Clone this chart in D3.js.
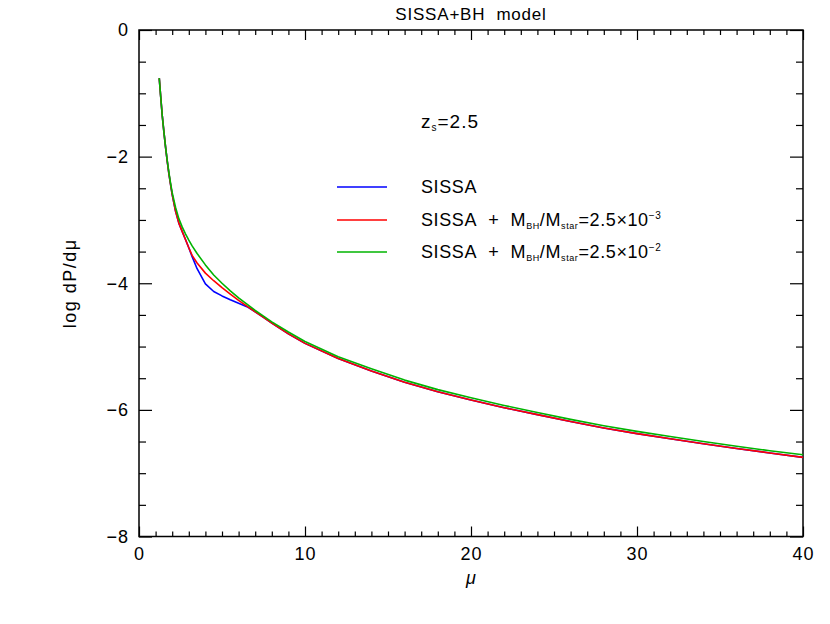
<!DOCTYPE html>
<html>
<head>
<meta charset="utf-8">
<script src="https://cdn.jsdelivr.net/npm/d3@7"></script>
<style>
  html, body { margin: 0; padding: 0; background: #fff; }
  svg { display: block; }
  text { font-family: "Liberation Sans", Arial, sans-serif; fill: #000; }
</style>
</head>
<body>
<svg id="chart" width="830" height="624"></svg>
<script>
// ---- data ----
const muValues = [1.22,1.3,1.4,1.5,1.6,1.7,1.8,1.9,2.0,2.2,2.4,2.6,2.8,3.0,3.2,3.5,4.0,4.5,5.0,5.5,6.0,6.5,7.0,7.5,8,9,10,12,14,16,18,20,22,24,26,28,30,32,34,36,38,40];
const sissa = [-0.76,-1.03,-1.35,-1.61,-1.85,-2.07,-2.27,-2.44,-2.60,-2.86,-3.05,-3.18,-3.31,-3.44,-3.58,-3.77,-4.01,-4.13,-4.20,-4.26,-4.315,-4.37,-4.45,-4.54,-4.63,-4.80,-4.95,-5.19,-5.385,-5.565,-5.715,-5.845,-5.965,-6.075,-6.185,-6.285,-6.375,-6.455,-6.535,-6.61,-6.68,-6.75];
const sissaBH3 = [-0.76,-1.03,-1.35,-1.61,-1.85,-2.07,-2.27,-2.44,-2.60,-2.86,-3.05,-3.18,-3.31,-3.44,-3.56,-3.68,-3.84,-3.96,-4.07,-4.17,-4.27,-4.36,-4.45,-4.54,-4.63,-4.80,-4.95,-5.19,-5.385,-5.565,-5.715,-5.845,-5.965,-6.075,-6.185,-6.285,-6.375,-6.455,-6.535,-6.61,-6.68,-6.75];
const sissaBH2 = [-0.76,-1.03,-1.35,-1.61,-1.85,-2.06,-2.25,-2.42,-2.57,-2.80,-2.98,-3.11,-3.22,-3.32,-3.41,-3.53,-3.71,-3.87,-4.00,-4.12,-4.23,-4.33,-4.43,-4.52,-4.61,-4.77,-4.92,-5.16,-5.35,-5.53,-5.68,-5.81,-5.93,-6.04,-6.15,-6.25,-6.34,-6.42,-6.50,-6.575,-6.645,-6.71];
const xMajorTicks = [0,10,20,30,40];
const yMajorTicks = [-8,-6,-4,-2,0];
const seriesColors = ["#0000ff", "#ff0000", "#00b400"];

// ---- layout ----
const svg = d3.select("#chart");
const X0 = 139, X1 = 803, Y0 = 30, Y1 = 536.5;
const x = d3.scaleLinear().domain([0, 40]).range([X0, X1]);
const y = d3.scaleLinear().domain([-8, 0]).range([Y1, Y0]);

const xMinor = d3.range(0, 41, 1).filter(v => v % 10 !== 0);
const yMinor = d3.range(-8, 0.001, 0.5).filter(v => Math.abs(v % 2) > 1e-6);
const NB = "\u00a0";

function styleAxis(g) {
  g.select(".domain").remove();
  g.selectAll(".tick line").attr("stroke", "#000").attr("stroke-width", 1.2);
  g.selectAll(".tick text").style("font-size", "18px").style("letter-spacing", "1px")
    .style("font-family", '"Liberation Sans", Arial, sans-serif');
}
const minus = d => d < 0 ? "\u2212" + Math.abs(d) : String(d);

// bottom axis
svg.append("g").attr("transform", `translate(0,${Y1})`)
  .call(d3.axisBottom(x).tickValues(xMajorTicks).tickSizeInner(-10).tickSizeOuter(0).tickPadding(11).tickFormat(minus))
  .call(styleAxis);
svg.append("g").attr("transform", `translate(0,${Y1})`)
  .call(d3.axisBottom(x).tickValues(xMinor).tickSize(-5).tickFormat(""))
  .call(styleAxis);
// top axis
svg.append("g").attr("transform", `translate(0,${Y0})`)
  .call(d3.axisTop(x).tickValues(xMajorTicks).tickSize(-10).tickFormat(""))
  .call(styleAxis);
svg.append("g").attr("transform", `translate(0,${Y0})`)
  .call(d3.axisTop(x).tickValues(xMinor).tickSize(-5).tickFormat(""))
  .call(styleAxis);
// left axis
svg.append("g").attr("transform", `translate(${X0},0)`)
  .call(d3.axisLeft(y).tickValues(yMajorTicks).tickSizeInner(-13).tickSizeOuter(0).tickPadding(10).tickFormat(minus))
  .call(styleAxis);
svg.append("g").attr("transform", `translate(${X0},0)`)
  .call(d3.axisLeft(y).tickValues(yMinor).tickSize(-7).tickFormat(""))
  .call(styleAxis);
// right axis
svg.append("g").attr("transform", `translate(${X1},0)`)
  .call(d3.axisRight(y).tickValues(yMajorTicks).tickSize(-13).tickFormat(""))
  .call(styleAxis);
svg.append("g").attr("transform", `translate(${X1},0)`)
  .call(d3.axisRight(y).tickValues(yMinor).tickSize(-7).tickFormat(""))
  .call(styleAxis);

// frame
svg.append("rect").attr("x", X0).attr("y", Y0).attr("width", X1 - X0).attr("height", Y1 - Y0)
  .attr("fill", "none").attr("stroke", "#000").attr("stroke-width", 1.5);

// curves
const line = d3.line().x(d => x(d[0])).y(d => y(d[1])).curve(d3.curveLinear);
[sissa, sissaBH3, sissaBH2].forEach((vals, i) => {
  svg.append("path")
    .datum(muValues.map((m, j) => [m, vals[j]]))
    .attr("d", line)
    .attr("fill", "none")
    .attr("stroke", seriesColors[i])
    .attr("stroke-width", 1.6)
    .attr("stroke-linejoin", "round");
});

// title
svg.append("text").attr("x", (X0 + X1) / 2).attr("y", 20).attr("text-anchor", "middle")
  .style("font-size", "17px").style("letter-spacing", "0.8px").text("SISSA+BH" + NB + NB + "model");

// axis labels
svg.append("text").attr("x", x(20)).attr("y", 584).attr("text-anchor", "middle")
  .style("font-size", "18px").style("font-style", "italic").text("\u03bc");
svg.append("text").attr("transform", `translate(76,${(Y0 + Y1) / 2}) rotate(-90)`)
  .attr("text-anchor", "middle").style("font-size", "18px").style("letter-spacing", "1.5px")
  .text("log" + NB + "dP/d\u03bc");

// annotation z_s = 2.5
const zt = svg.append("text").attr("x", 421).attr("y", 128).style("font-size", "19px").style("letter-spacing", "1px");
zt.append("tspan").text("z");
zt.append("tspan").attr("dy", 3).style("font-size", "10px").text("s");
zt.append("tspan").attr("dy", -3).text("=2.5");

// legend
const legY = [187, 220, 252];
legY.forEach((ly, i) => {
  svg.append("line").attr("x1", 337).attr("x2", 387).attr("y1", ly).attr("y2", ly)
    .attr("stroke", seriesColors[i]).attr("stroke-width", 1.6);
  const t = svg.append("text").attr("x", 421).attr("y", ly + 6).style("font-size", "18px").style("letter-spacing", "0.6px");
  if (i === 0) {
    t.text("SISSA");
  } else {
    t.append("tspan").text("SISSA" + NB + NB + "+" + NB + NB + "M");
    t.append("tspan").attr("dy", 3).style("font-size", "9px").text("BH");
    t.append("tspan").attr("dy", -3).text("/M");
    t.append("tspan").attr("dy", 3).style("font-size", "9px").text("star");
    t.append("tspan").attr("dy", -3).text("=2.5\u00d710");
    t.append("tspan").attr("dy", -7).style("font-size", "10px").text(i === 1 ? "\u22123" : "\u22122");
  }
});
</script>
</body>
</html>
